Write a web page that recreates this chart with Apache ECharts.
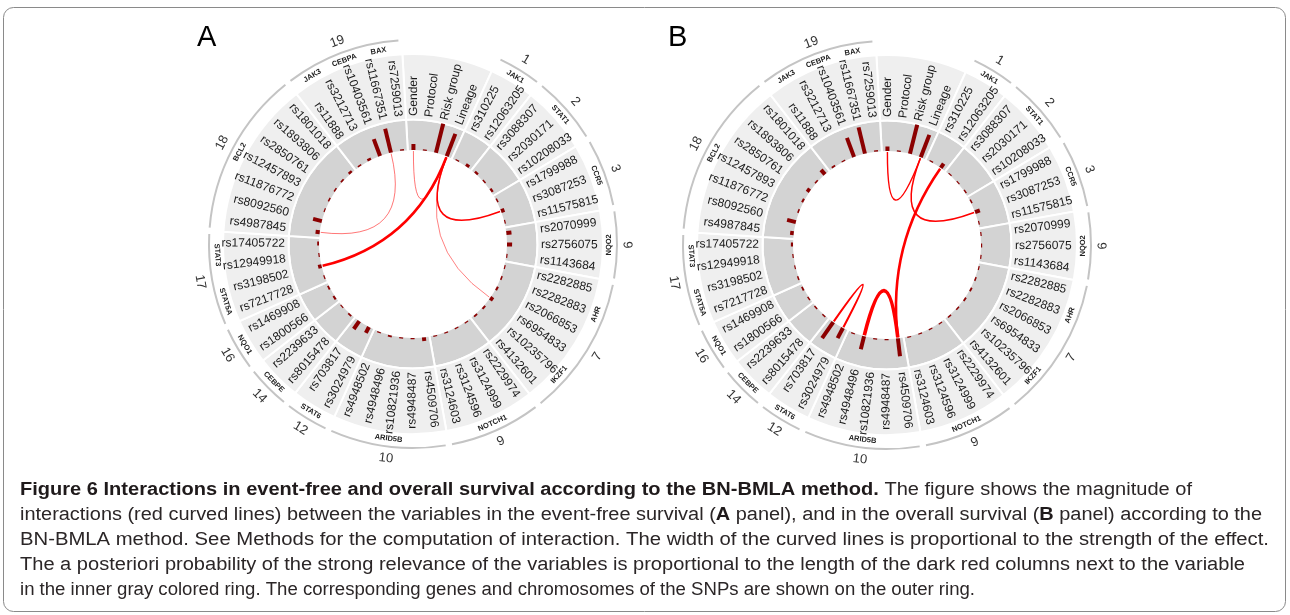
<!DOCTYPE html>
<html>
<head>
<meta charset="utf-8">
<script src="https://cdn.jsdelivr.net/npm/echarts@6/dist/echarts.min.js"></script>
<style>
  html, body { margin: 0; padding: 0; background: #fff; }
  #chart { width: 1290px; height: 615px; }
</style>
</head>
<body>
<div id="chart"></div>
<script>
// Variables placed around the circle, clockwise from the top
const variables = [
  'Gender', 'Protocol', 'Risk group', 'Lineage',
  'rs310225', 'rs12063205',
  'rs3088307', 'rs2030171', 'rs10208033',
  'rs1799988', 'rs3087253', 'rs11575815',
  'rs2070999', 'rs2756075', 'rs1143684',
  'rs2282885', 'rs2282883', 'rs2066853',
  'rs6954833', 'rs10235796', 'rs4132601',
  'rs2229974', 'rs3124999', 'rs3124596', 'rs3124603',
  'rs4509706', 'rs4948487', 'rs10821936', 'rs4948496', 'rs4948502',
  'rs3024979', 'rs703817',
  'rs8015478', 'rs2239633',
  'rs1800566', 'rs1469908',
  'rs7217728', 'rs3198502',
  'rs12949918', 'rs17405722',
  'rs4987845', 'rs8092560', 'rs11876772', 'rs12457893', 'rs2850761', 'rs1893806', 'rs1801018',
  'rs11888', 'rs3212713',
  'rs10403561',
  'rs11667351', 'rs7259013'
];
const clinicalCount = 4;

// Genes of the SNPs (in circle order) and how many SNPs each has
const geneNames = ['JAK1', 'STAT1', 'CCR5', 'NQO2', 'AHR', 'IKZF1', 'NOTCH1', 'ARID5B', 'STAT6',
  'CEBPE', 'NQO1', 'STAT5A', 'STAT3', 'BCL2', 'JAK3', 'CEBPA', 'BAX'];
const geneSizes = [2, 3, 3, 3, 3, 3, 4, 5, 2, 2, 2, 2, 2, 7, 2, 1, 2];

// Chromosomes of the SNPs and how many SNPs each has
const chromosomeNames = ['1', '2', '3', '6', '7', '9', '10', '12', '14', '16', '17', '18', '19'];
const chromosomeSizes = [2, 3, 3, 3, 6, 4, 5, 2, 2, 2, 4, 7, 5];

// A posteriori probability of strong relevance, one value per variable
const relevanceA = [
  0.20, 0.04, 1.00, 0.80,
  0.04, 0.10,
  0.08, 0.05, 0.08,
  0.05, 0.12, 0.04,
  0.17, 0.17, 0.04,
  0.04, 0.05, 0.07,
  0.12, 0.07, 0.06,
  0.04, 0.04, 0.04, 0.04,
  0.12, 0.04, 0.04, 0.06, 0.04,
  0.22, 0.32,
  0.06, 0.04,
  0.07, 0.06,
  0.04, 0.12,
  0.04, 0.06,
  0.14, 0.30, 0.04, 0.05, 0.05, 0.06, 0.08,
  0.05, 0.08,
  0.60,
  0.82, 0.05
];
const relevanceB = [
  0.15, 0.04, 1.00, 0.80,
  0.04, 0.17,
  0.04, 0.04, 0.05,
  0.05, 0.17, 0.04,
  0.04, 0.04, 0.04,
  0.04, 0.05, 0.06,
  0.06, 0.05, 0.05,
  0.04, 0.04, 0.04, 0.04,
  0.60, 0.04, 0.04, 0.45, 0.04,
  0.38, 0.65,
  0.05, 0.05,
  0.05, 0.06,
  0.05, 0.04,
  0.04, 0.07,
  0.12, 0.30, 0.05, 0.07, 0.12, 0.05, 0.20,
  0.06, 0.04,
  0.68,
  0.90, 0.05
];

// Interactions: [variable, variable, strength of the effect]
const interactionsA = [
  ['Lineage', 'rs3198502', 1.00],
  ['Lineage', 'rs3087253', 0.60],
  ['Gender', 'Lineage', 0.38],
  ['Lineage', 'rs6954833', 0.35],
  ['rs11667351', 'rs4987845', 0.38]
];
const interactionsB = [
  ['Gender', 'Lineage', 0.55],
  ['Lineage', 'rs3087253', 0.60],
  ['rs12063205', 'rs4509706', 1.00],
  ['rs4948496', 'rs4509706', 1.40],
  ['rs3024979', 'rs703817', 0.80]
];

const captionLines = [
  [['Figure 6 Interactions in event-free and overall survival according to the BN-BMLA method.', true],
   [' The figure shows the magnitude of', false]],
  [['interactions (red curved lines) between the variables in the event-free survival (', false], ['A', true],
   [' panel), and in the overall survival (', false], ['B', true], [' panel) according to the', false]],
  [['BN-BMLA method. See Methods for the computation of interaction. The width of the curved lines is proportional to the strength of the effect.', false]],
  [['The a posteriori probability of the strong relevance of the variables is proportional to the length of the dark red columns next to the variable', false]],
  [['in the inner gray colored ring. The corresponding genes and chromosomes of the SNPs are shown on the outer ring.', false]]
];

// ---- layout ----
const N = variables.length;
const START_ANGLE = 93.2;
const R_MAX = 230;
const R_INNER = 93, R_DARK = 124.5, R_LIGHT = 190;
const R_LABEL = 128, R_GENE = 196, R_ARC = 204, R_CHROM = 216;
const R_CHORD = 93;
const BAR_BASE = 94, BAR_LEN = 30;
const FONT = '"Liberation Sans", Arial, sans-serif';
const panels = [
  { center: [413, 244], relevance: relevanceA, interactions: interactionsA, letter: 'A', letterX: 197 },
  { center: [887, 245], relevance: relevanceB, interactions: interactionsB, letter: 'B', letterX: 668 }
];
const captionX = 20;
const captionY = [490.5, 515.5, 540, 565, 590];
const captionRight = [1192, 1262, 1269, 1245, 975];

// spans [start, end] in slot units
const sectorSpans = [[0, clinicalCount]];
const chromSpans = [];
(function () {
  let s = clinicalCount;
  chromosomeSizes.forEach(n => { sectorSpans.push([s, s + n]); chromSpans.push([s, s + n]); s += n; });
})();
const geneSpans = [];
(function () {
  let s = clinicalCount;
  geneSizes.forEach(n => { geneSpans.push([s, s + n]); s += n; });
})();

const DEG = Math.PI / 180;
function screenAngle(cs, pt) { return Math.atan2(pt[1] - cs.cy, pt[0] - cs.cx); }
function clockAngle(cs, pt) {
  const t = Math.atan2(pt[0] - cs.cx, -(pt[1] - cs.cy)) / DEG;
  return (t + 360) % 360;
}
function radialRotation(t) { return (t < 180 ? 90 - t : 270 - t) * DEG; }
function tangentRotation(t) { return (t > 90 && t < 270 ? 180 - t : -t) * DEG; }
function spanAngles(cs, api, r, a, b) {
  const a0 = screenAngle(cs, api.coord([r, a]));
  let a1 = screenAngle(cs, api.coord([r, b]));
  while (a1 <= a0) a1 += 2 * Math.PI;
  return [a0, a1];
}

const polar = [], angleAxis = [], radiusAxis = [], series = [];

panels.forEach((p, k) => {
  const geo = k * 2, rel = k * 2 + 1;
  polar.push({ center: p.center, radius: R_MAX }, { center: p.center, radius: R_MAX });
  angleAxis.push(
    { polarIndex: geo, type: 'value', min: 0, max: N, startAngle: START_ANGLE, clockwise: true, show: false },
    { polarIndex: rel, type: 'category', data: variables, boundaryGap: true, startAngle: START_ANGLE, clockwise: true, show: false }
  );
  radiusAxis.push(
    { polarIndex: geo, type: 'value', min: 0, max: R_MAX, show: false },
    { polarIndex: rel, type: 'value', min: -BAR_BASE / BAR_LEN, max: (R_MAX - BAR_BASE) / BAR_LEN, show: false }
  );

  // gray rings, one sector per chromosome (plus the clinical variables)
  series.push({
    type: 'custom', coordinateSystem: 'polar', polarIndex: geo, silent: true, z: 1,
    data: sectorSpans.map(s => [R_INNER, s[0], s[1]]),
    renderItem: (params, api) => {
      const cs = params.coordSys;
      const [a0, a1] = spanAngles(cs, api, R_INNER, api.value(1), api.value(2));
      return {
        type: 'group', children: [
          { type: 'sector', shape: { cx: cs.cx, cy: cs.cy, r0: R_INNER, r: R_DARK, startAngle: a0, endAngle: a1, clockwise: true },
            style: { fill: '#d3d3d3', stroke: '#ffffff', lineWidth: 2 } },
          { type: 'sector', shape: { cx: cs.cx, cy: cs.cy, r0: R_DARK, r: R_LIGHT, startAngle: a0, endAngle: a1, clockwise: true },
            style: { fill: '#efefef', stroke: '#ffffff', lineWidth: 2 } }
        ]
      };
    }
  });

  // chromosome arcs and numbers
  series.push({
    type: 'custom', coordinateSystem: 'polar', polarIndex: geo, silent: true, z: 2,
    data: chromSpans.map(s => [R_ARC, s[0], s[1]]),
    renderItem: (params, api) => {
      const cs = params.coordSys;
      const [a0, a1] = spanAngles(cs, api, R_ARC, api.value(1), api.value(2));
      const gap = 0.9 * DEG;
      const mid = api.coord([R_CHROM, (api.value(1) + api.value(2)) / 2]);
      const t = clockAngle(cs, mid);
      return {
        type: 'group', children: [
          { type: 'arc', shape: { cx: cs.cx, cy: cs.cy, r: R_ARC, startAngle: a0 + gap, endAngle: a1 - gap, clockwise: true },
            style: { fill: 'none', stroke: '#c4c4c4', lineWidth: 2 } },
          { type: 'text', x: mid[0], y: mid[1], rotation: tangentRotation(t),
            style: { text: chromosomeNames[params.dataIndex], font: '13px ' + FONT, fill: '#333', align: 'center', verticalAlign: 'middle' } }
        ]
      };
    }
  });

  // gene names
  series.push({
    type: 'custom', coordinateSystem: 'polar', polarIndex: geo, silent: true, z: 3,
    data: geneSpans.map(s => [R_GENE, (s[0] + s[1]) / 2]),
    renderItem: (params, api) => {
      const cs = params.coordSys;
      const pt = api.coord([R_GENE, api.value(1)]);
      const t = clockAngle(cs, pt);
      return { type: 'text', x: pt[0], y: pt[1], rotation: tangentRotation(t),
        style: { text: geneNames[params.dataIndex], font: 'bold 7.5px ' + FONT, fill: '#222', align: 'center', verticalAlign: 'middle' } };
    }
  });

  // variable names, radial
  series.push({
    type: 'custom', coordinateSystem: 'polar', polarIndex: geo, silent: true, z: 3,
    data: variables.map((v, i) => [R_LABEL, i + 0.5]),
    renderItem: (params, api) => {
      const cs = params.coordSys;
      const pt = api.coord([R_LABEL, api.value(1)]);
      const t = clockAngle(cs, pt);
      return { type: 'text', x: pt[0], y: pt[1], rotation: radialRotation(t),
        style: { text: variables[params.dataIndex], font: '12px ' + FONT, fill: '#1a1a1a',
          align: t < 180 ? 'left' : 'right', verticalAlign: 'middle' } };
    }
  });

  // relevance columns
  series.push({
    type: 'custom', coordinateSystem: 'polar', polarIndex: rel, silent: true, z: 4,
    data: p.relevance.map((v, i) => [v, i]),
    renderItem: (params, api) => {
      const i = api.value(1), v = api.value(0);
      const a = api.coord([0, i]), b = api.coord([v, i]);
      return { type: 'line', shape: { x1: a[0], y1: a[1], x2: b[0], y2: b[1] },
        style: { stroke: '#8b0000', lineWidth: 4, lineCap: 'butt' } };
    }
  });

  // interactions, curved through the centre
  series.push({
    type: 'custom', coordinateSystem: 'polar', polarIndex: geo, silent: true, z: 5,
    data: p.interactions.map(d => [R_CHORD, variables.indexOf(d[0]) + 0.5, variables.indexOf(d[1]) + 0.5, d[2]]),
    renderItem: (params, api) => {
      const cs = params.coordSys;
      const a = api.coord([R_CHORD, api.value(1)]);
      const b = api.coord([R_CHORD, api.value(2)]);
      const w = api.value(3);
      const alpha = w < 0.5 ? 0.55 : 1;
      return { type: 'bezierCurve',
        shape: { x1: a[0], y1: a[1], x2: b[0], y2: b[1], cpx1: cs.cx, cpy1: cs.cy },
        style: { fill: 'none', stroke: 'rgba(255,0,0,' + alpha + ')', lineWidth: w * 2.6 } };
    }
  });
});

// caption, each line fitted to its measured width
const measureCtx = document.createElement('canvas').getContext('2d');
const CAP_SIZE = 18;
function segWidth(segs) {
  let w = 0;
  segs.forEach(([t, b]) => {
    measureCtx.font = (b ? 'bold ' : '') + CAP_SIZE + 'px ' + FONT;
    w += measureCtx.measureText(t).width;
  });
  return w;
}
const graphic = [
  { type: 'rect', shape: { x: 3.5, y: 7.5, width: 1282, height: 604, r: 10 },
    style: { fill: 'none', stroke: '#8a8a8a', lineWidth: 1 }, silent: true }
];
panels.forEach(p => {
  graphic.push({ type: 'text', x: p.letterX, y: 38,
    style: { text: p.letter, font: '29px ' + FONT, fill: '#000', align: 'left', verticalAlign: 'middle' } });
});
captionLines.forEach((segs, i) => {
  const natural = segWidth(segs);
  const k = (captionRight[i] - captionX) / natural;
  graphic.push({
    type: 'text', x: captionX, y: captionY[i], scaleX: k, originX: 0, originY: 0,
    style: {
      text: segs.map(([t, b]) => '{' + (b ? 'b' : 'n') + '|' + t + '}').join(''),
      align: 'left', verticalAlign: 'middle',
      rich: {
        b: { font: 'bold ' + CAP_SIZE + 'px ' + FONT, fill: '#1f1a1b' },
        n: { font: CAP_SIZE + 'px ' + FONT, fill: '#2b2627' }
      }
    }
  });
});

const chart = echarts.init(document.getElementById('chart'), null, { renderer: 'canvas', width: 1290, height: 615 });
chart.setOption({
  animation: false,
  backgroundColor: '#ffffff',
  polar, angleAxis, radiusAxis, series, graphic
});
</script>
</body>
</html>
